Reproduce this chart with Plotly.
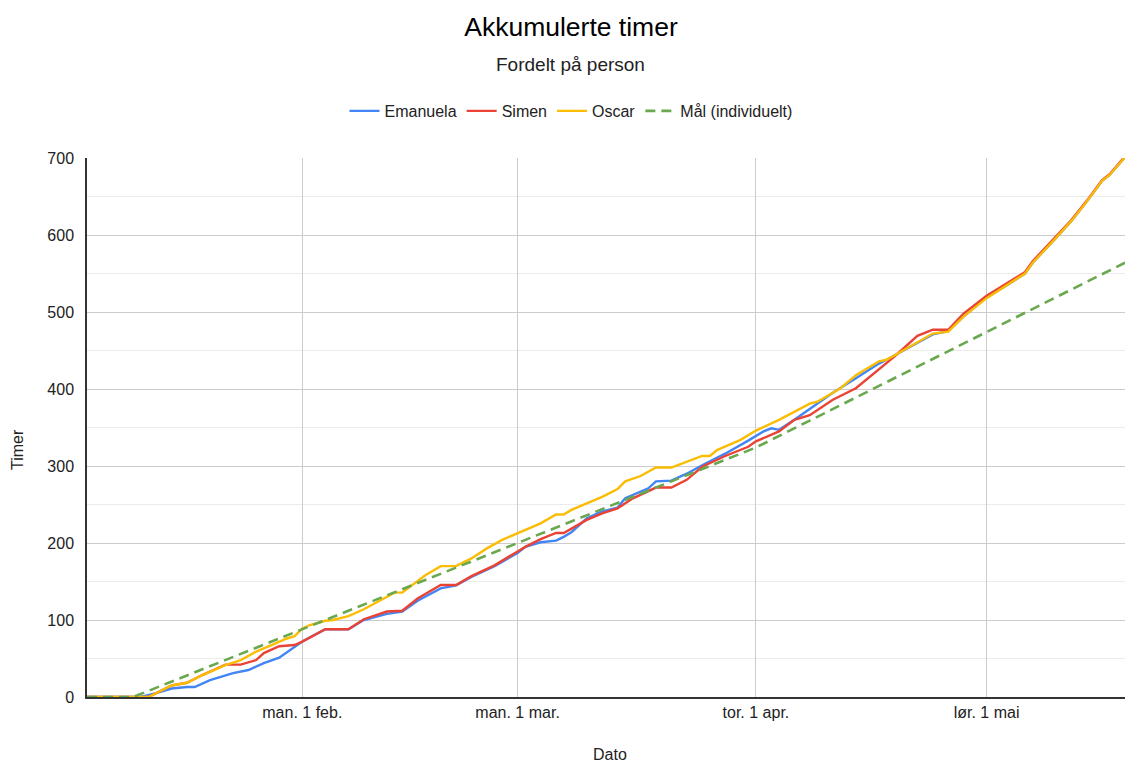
import plotly.graph_objects as go

# ---------------- data ----------------
emanuela_dates = ["2021-01-04","2021-01-11","2021-01-13","2021-01-15","2021-01-17","2021-01-18","2021-01-20",
                  "2021-01-23","2021-01-25","2021-01-27","2021-01-29","2021-01-30","2021-01-31","2021-02-01",
                  "2021-02-04","2021-02-07","2021-02-09","2021-02-12","2021-02-14","2021-02-16","2021-02-19",
                  "2021-02-21","2021-02-23","2021-02-26","2021-03-01","2021-03-02","2021-03-04","2021-03-06",
                  "2021-03-07","2021-03-08","2021-03-10","2021-03-12","2021-03-14","2021-03-15","2021-03-18",
                  "2021-03-19","2021-03-21","2021-03-23","2021-03-25","2021-03-28","2021-03-31","2021-04-02",
                  "2021-04-03","2021-04-04","2021-04-06","2021-04-08","2021-04-11","2021-04-14","2021-04-17",
                  "2021-04-18","2021-04-21","2021-04-24","2021-04-26","2021-04-28","2021-04-30","2021-05-01",
                  "2021-05-04","2021-05-06","2021-05-07","2021-05-09","2021-05-10","2021-05-12","2021-05-14",
                  "2021-05-16","2021-05-17","2021-05-19"]
emanuela_vals = [0, 0, 5, 11, 13, 13, 22,
                 31, 35, 44, 51, 58, 66, 72,
                 88, 88, 100, 108, 111, 125, 141,
                 145, 156, 170, 187, 195, 201, 203,
                 208, 214, 232, 241, 246, 258, 271,
                 280, 281, 290, 301, 316, 333, 345,
                 349, 347, 360, 374, 395, 414, 433,
                 438, 455, 471, 475, 494, 511, 519,
                 537, 550, 564, 585, 596, 618, 643,
                 670, 678, 701]

simen_dates = ["2021-01-04","2021-01-12","2021-01-15","2021-01-17","2021-01-19","2021-01-22","2021-01-24",
               "2021-01-26","2021-01-27","2021-01-29","2021-01-31","2021-02-01","2021-02-04","2021-02-07",
               "2021-02-09","2021-02-12","2021-02-14","2021-02-16","2021-02-19","2021-02-21","2021-02-23",
               "2021-02-26","2021-03-01","2021-03-02","2021-03-04","2021-03-06","2021-03-07","2021-03-10",
               "2021-03-12","2021-03-14","2021-03-16","2021-03-19","2021-03-21","2021-03-23","2021-03-25",
               "2021-03-28","2021-03-31","2021-04-01","2021-04-04","2021-04-06","2021-04-08","2021-04-11",
               "2021-04-14","2021-04-17","2021-04-19","2021-04-22","2021-04-24","2021-04-26","2021-04-28",
               "2021-05-01","2021-05-04","2021-05-06","2021-05-07","2021-05-09","2021-05-10","2021-05-12",
               "2021-05-14","2021-05-16","2021-05-17","2021-05-19"]
simen_vals = [0, 0, 15, 18.5, 28.5, 42, 42,
              48, 57, 66, 67.5, 72, 88, 88,
              101, 111, 112, 128, 145.5, 145.5, 157,
              171, 189, 195, 205, 213, 213, 230,
              238.5, 245, 258, 272, 272, 282, 299,
              313, 325, 332, 345, 360, 366, 386,
              401, 425, 442, 469, 477, 477, 498,
              521, 539, 552, 566, 587, 598, 619,
              644, 671, 679, 702]

oscar_dates = ["2021-01-04","2021-01-12","2021-01-15","2021-01-17","2021-01-19","2021-01-22","2021-01-24",
               "2021-01-26","2021-01-28","2021-01-30","2021-01-31","2021-02-01","2021-02-02","2021-02-04",
               "2021-02-05","2021-02-07","2021-02-09","2021-02-11","2021-02-12","2021-02-13","2021-02-14",
               "2021-02-16","2021-02-17","2021-02-19","2021-02-21","2021-02-23","2021-02-25","2021-02-27",
               "2021-03-01","2021-03-04","2021-03-06","2021-03-07","2021-03-08","2021-03-12","2021-03-14",
               "2021-03-15","2021-03-17","2021-03-19","2021-03-21","2021-03-24","2021-03-25","2021-03-26",
               "2021-03-27","2021-03-30","2021-04-01","2021-04-04","2021-04-06","2021-04-08","2021-04-09",
               "2021-04-12","2021-04-14","2021-04-17","2021-04-18","2021-04-21","2021-04-24","2021-04-26",
               "2021-04-28","2021-05-01","2021-05-04","2021-05-06","2021-05-07","2021-05-09","2021-05-10",
               "2021-05-12","2021-05-14","2021-05-16","2021-05-17","2021-05-19"]
oscar_vals = [0, 0, 15, 18.5, 28.5, 41.5, 48,
              59, 67.5, 76, 79, 89, 93.5, 99,
              100, 105, 114, 125, 131, 135.5, 135.5,
              150, 158, 170, 170, 180, 193, 204,
              213, 225.5, 237, 237, 243, 260, 270,
              280, 287, 298, 298, 309, 313, 313,
              321, 334, 346, 360, 370.5, 381, 383.5,
              401, 418, 436, 438, 455, 472, 474.5,
              494, 518, 537, 550, 564, 585, 596,
              618, 643, 670, 678, 701]

goal_dates = ["2021-01-04","2021-01-10","2021-01-17","2021-01-24","2021-01-31","2021-02-07","2021-02-14",
              "2021-02-21","2021-02-28","2021-03-07","2021-03-14","2021-03-21","2021-03-28","2021-04-01",
              "2021-04-08","2021-04-15","2021-04-22","2021-04-29","2021-05-06","2021-05-13","2021-05-19"]
goal_vals = [0, 0, 28, 56, 84, 112, 140,
             168, 196, 224, 252, 280, 308, 324,
             359, 394, 429, 464, 499, 534, 564]

tick_vals = ["2021-02-01", "2021-03-01", "2021-04-01", "2021-05-01"]
tick_text = ["man. 1 feb.", "man. 1 mar.", "tor. 1 apr.", "lør. 1 mai"]

# ---------------- figure ----------------
FONT = "Liberation Sans, Arial, sans-serif"
fig = go.Figure()
fig.add_trace(go.Scatter(x=emanuela_dates, y=emanuela_vals, mode="lines", name="Emanuela",
                         line=dict(color="#4285F4", width=2.4)))
fig.add_trace(go.Scatter(x=simen_dates, y=simen_vals, mode="lines", name="Simen",
                         line=dict(color="#EA4335", width=2.4)))
fig.add_trace(go.Scatter(x=oscar_dates, y=oscar_vals, mode="lines", name="Oscar",
                         line=dict(color="#FBBC04", width=2.4)))
fig.add_trace(go.Scatter(x=goal_dates, y=goal_vals, mode="lines", name="Mål (individuelt)",
                         line=dict(color="#6AA84F", width=2.6, dash="10px,6px")))

fig.update_layout(
    width=1126, height=764,
    margin=dict(l=87, r=1, t=158, b=67),
    paper_bgcolor="white", plot_bgcolor="white",
    font=dict(family=FONT, size=16, color="#222222"),
    title=dict(text="Akkumulerte timer", x=571 / 1126, xref="container", xanchor="center",
               y=1 - 27 / 764, yref="container", yanchor="middle",
               font=dict(size=26.5, color="#000000", family=FONT)),
    showlegend=True,
    legend=dict(orientation="h", x=571 / 1126, xref="container", xanchor="center",
                y=1 - 111 / 764, yref="container", yanchor="middle",
                font=dict(size=16, color="#222222"), itemwidth=30, bgcolor="rgba(0,0,0,0)"),
    hovermode=False,
)

fig.add_annotation(text="Fordelt på person", xref="paper", yref="paper",
                   x=(570 - 87) / 1038, y=(697 - 64) / 539, showarrow=False,
                   xanchor="center", yanchor="middle", font=dict(size=19, color="#222222"))
fig.add_annotation(text="Timer", xref="paper", yref="paper", x=(17 - 87) / 1038, y=(697 - 450) / 539,
                   showarrow=False, textangle=-90, xanchor="center", yanchor="middle",
                   font=dict(size=16, color="#222222"))
fig.add_annotation(text="Dato", xref="paper", yref="paper", x=(610 - 87) / 1038, y=(697 - 754) / 539,
                   showarrow=False, xanchor="center", yanchor="middle",
                   font=dict(size=16, color="#222222"))

fig.update_xaxes(
    type="date", range=["2021-01-04", "2021-05-19"],
    tickmode="array", tickvals=tick_vals, ticktext=tick_text,
    showgrid=True, gridcolor="#cccccc", gridwidth=1,
    showline=True, linecolor="#333333", linewidth=1.5,
    ticks="", tickfont=dict(size=16, color="#222222"),
    zeroline=False,
)
fig.update_yaxes(
    range=[0, 700], dtick=100, tick0=0,
    showgrid=True, gridcolor="#cccccc", gridwidth=1,
    minor=dict(dtick=50, showgrid=True, gridcolor="#ebebeb", gridwidth=1),
    showline=True, linecolor="#333333", linewidth=1.5,
    ticks="", ticklabelstandoff=8, tickfont=dict(size=16, color="#222222"),
    zeroline=False,
)

fig.write_html("out.html")
